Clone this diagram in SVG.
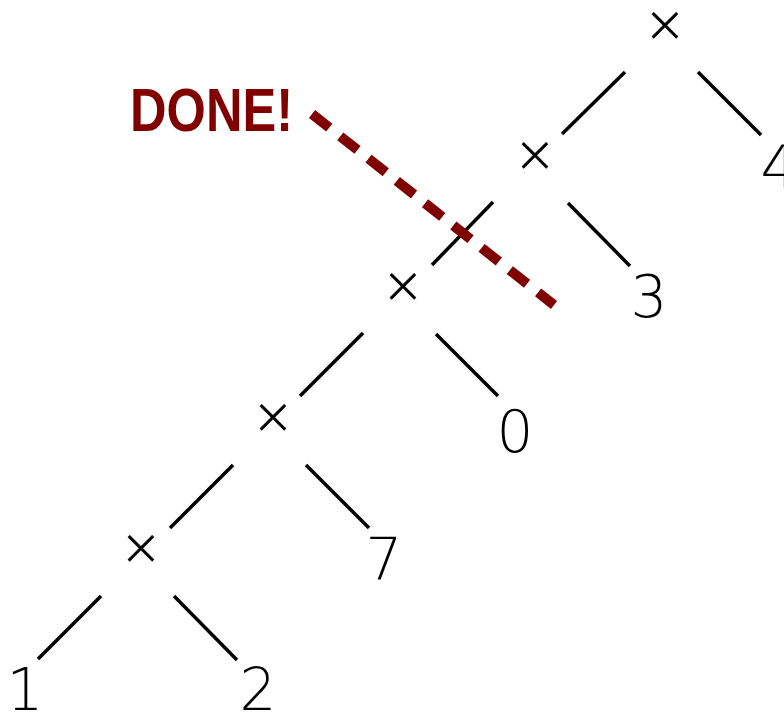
<svg xmlns="http://www.w3.org/2000/svg" width="784" height="714" viewBox="0 0 784 714">
<style>
.op{font-family:"DejaVu Sans","Liberation Sans",sans-serif;font-weight:200;font-size:50px;text-anchor:middle;fill:#000;stroke:#000;stroke-width:0.6}
.num{font-family:"DejaVu Sans","Liberation Sans",sans-serif;font-weight:200;font-size:58px;text-anchor:middle;fill:#000}
.edge{stroke:#000;stroke-width:3.5;fill:none;stroke-linecap:butt}
.done{font-family:"Liberation Sans Narrow","Liberation Sans",sans-serif;font-weight:bold;font-size:62px;fill:#800000}
</style>
<rect width="784" height="714" fill="#fff"/>
<g id="connectors">
<line class="edge" x1="625" y1="72" x2="562" y2="134"/>
<line class="edge" x1="698" y1="72" x2="761" y2="135"/>
<line class="edge" x1="493" y1="202" x2="432" y2="265"/>
<line class="edge" x1="568" y1="203" x2="630" y2="266"/>
<line class="edge" x1="363" y1="333" x2="300" y2="396"/>
<line class="edge" x1="436" y1="334" x2="498" y2="396"/>
<line class="edge" x1="233" y1="465" x2="170" y2="528"/>
<line class="edge" x1="306" y1="465" x2="369" y2="528"/>
<line class="edge" x1="101" y1="596" x2="38" y2="659"/>
<line class="edge" x1="174" y1="596" x2="237" y2="660"/>
</g>
<g id="n1"><text class="op" x="665" y="40.5">×</text></g>
<g id="n2"><text class="op" x="535" y="170.5">×</text></g>
<g id="n3"><text class="num" x="779" y="187">4</text></g>
<g id="n4"><text class="op" x="403" y="302">×</text></g>
<g id="n5"><text class="num" x="649" y="317">3</text></g>
<g id="n6"><text class="op" x="273" y="433">×</text></g>
<g id="n7"><text class="num" x="515" y="452">0</text></g>
<g id="n8"><text class="op" x="141" y="564">×</text></g>
<g id="n9"><text class="num" x="384" y="580">7</text></g>
<g id="n10"><text class="num" x="25" y="710">1</text></g>
<g id="n11"><text class="num" x="258" y="710">2</text></g>
<g id="done">
<text class="done" x="130" y="131" textLength="163" lengthAdjust="spacingAndGlyphs">DONE!</text>
<line x1="312" y1="114" x2="554" y2="305" stroke="#800000" stroke-width="10" stroke-dasharray="22 14"/>
</g>
</svg>
